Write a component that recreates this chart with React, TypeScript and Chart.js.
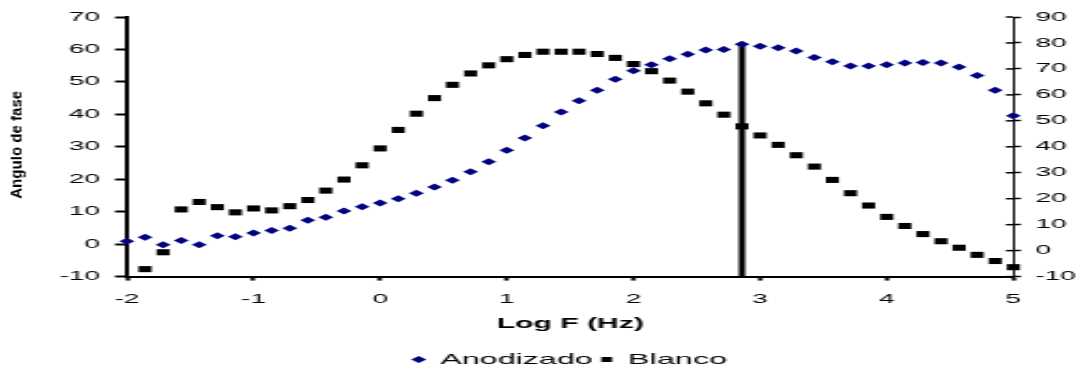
import React, { useEffect, useRef } from "react";
import { Chart, registerables } from "chart.js";

Chart.register(...registerables);

// Log F (Hz) values of the measured points
const logF = [
  -2.0, -1.857, -1.714, -1.571, -1.429, -1.286, -1.143, -1.0, -0.857, -0.714,
  -0.571, -0.429, -0.286, -0.143, 0.0, 0.143, 0.286, 0.429, 0.571, 0.714,
  0.857, 1.0, 1.143, 1.286, 1.429, 1.571, 1.714, 1.857, 2.0, 2.143,
  2.286, 2.429, 2.571, 2.714, 2.857, 3.0, 3.143, 3.286, 3.429, 3.571,
  3.714, 3.857, 4.0, 4.143, 4.286, 4.429, 4.571, 4.714, 4.857, 5.0,
];

const anodizado = [
  0.9, 2.1, -0.2, 1.1, -0.2, 2.6, 2.3, 3.4, 4.2, 4.9,
  7.4, 8.3, 10.2, 11.5, 12.7, 14.0, 15.7, 17.6, 19.7, 22.3,
  25.4, 28.9, 32.7, 36.5, 40.7, 44.2, 47.4, 50.8, 53.4, 55.3,
  57.1, 58.5, 59.8, 60.0, 61.6, 61.0, 60.5, 59.5, 57.5, 56.2,
  54.9, 54.9, 55.3, 55.8, 56.0, 55.8, 54.6, 52.0, 47.4, 39.6,
];

const blanco = [
  null, -7.7, -2.5, 10.7, 13.0, 11.4, 9.8, 11.0, 10.4, 11.7,
  13.6, 16.5, 19.9, 24.3, 29.5, 35.2, 40.2, 45.0, 49.1, 52.6,
  55.1, 57.0, 58.3, 59.3, 59.3, 59.3, 58.6, 57.4, 55.5, 53.3,
  50.4, 47.0, 43.4, 39.9, 36.3, 33.5, 30.6, 27.4, 23.9, 19.8,
  15.7, 11.9, 8.4, 5.6, 3.1, 0.9, -1.1, -3.3, -5.2, -7.1,
];

// index of the point marked with the vertical drop line
const markerIndex = 34;

const seriesNames = ["Anodizado", "Blanco"];
const xTitle = "Log F (Hz)";
const yTitle = "Angulo de fase";
const xTicks = { min: -2, max: 5, step: 1 };
const yLeftTicks = { min: -10, max: 70, step: 10 };
const yRightTicks = { min: -10, max: 90, step: 10 };

const FONT = 'Arial, "Liberation Sans", sans-serif';
const W = 505;
const H = 377;
const STRETCH = 1086 / W;

const extrasPlugin = {
  id: "extras",
  afterDraw(chart: any) {
    const { ctx, chartArea } = chart;
    const y2 = chart.scales.y2;
    ctx.save();
    ctx.strokeStyle = "#000";
    ctx.lineWidth = 1.5;
    y2.ticks.forEach((_t: any, i: number) => {
      const py = y2.getPixelForTick(i);
      ctx.beginPath();
      ctx.moveTo(chartArea.right - 3.5, py);
      ctx.lineTo(chartArea.right, py);
      ctx.stroke();
    });
    ctx.restore();

    ctx.save();
    ctx.translate(8, (chartArea.top + chartArea.bottom) / 2 - 2);
    ctx.rotate(-Math.PI / 2);
    ctx.font = "bold 7px " + FONT;
    const w = ctx.measureText(yTitle).width;
    ctx.scale(108 / w, 1);
    ctx.textAlign = "center";
    ctx.textBaseline = "middle";
    ctx.fillStyle = "#000";
    ctx.fillText(yTitle, 0, 0);
    ctx.restore();
  },
};

export default function App() {
  const ref = useRef<HTMLCanvasElement | null>(null);

  useEffect(() => {
    if (!ref.current) return;
    Chart.defaults.font.family = FONT;
    Chart.defaults.color = "#000";
    const chart = new Chart(ref.current, {
      type: "scatter",
      data: {
        datasets: [
          {
            label: seriesNames[0],
            data: logF.map((x, i) => ({ x, y: anodizado[i] })),
            pointStyle: "rectRot",
            pointRadius: 3.5,
            pointBackgroundColor: "#000080",
            pointBorderColor: "#000080",
            backgroundColor: "#000080",
            borderColor: "#000080",
            borderWidth: 0,
            pointBorderWidth: 0,
            showLine: false,
            clip: false,
            yAxisID: "y",
          },
          {
            label: seriesNames[1],
            data: logF
              .map((x, i) => ({ x, y: blanco[i] }))
              .filter((p) => p.y !== null),
            pointStyle: "rect",
            pointRadius: 4.3,
            pointBackgroundColor: "#000",
            pointBorderColor: "#000",
            backgroundColor: "#000",
            borderColor: "#000",
            borderWidth: 0,
            pointBorderWidth: 0,
            showLine: false,
            clip: false,
            yAxisID: "y",
          },
          {
            label: "marker",
            type: "line",
            data: [
              { x: logF[markerIndex], y: yLeftTicks.min },
              { x: logF[markerIndex], y: anodizado[markerIndex] },
            ],
            borderColor: "#000",
            borderWidth: 3,
            pointRadius: 0,
            showLine: true,
            clip: false,
            yAxisID: "y",
          } as any,
        ],
      },
      options: {
        animation: false,
        responsive: false,
        devicePixelRatio: 1,
        layout: { padding: { top: 17, left: 0, right: 0, bottom: 0 } },
        plugins: {
          legend: {
            position: "bottom",
            fullSize: false,
            labels: {
              usePointStyle: true,
              boxWidth: 5,
              boxHeight: 5,
              padding: 4,
              color: "#000",
              font: { size: 15, family: FONT },
              filter: (item: any) => item.datasetIndex < 2,
            },
          },
          tooltip: { enabled: false },
        },
        scales: {
          x: {
            type: "linear",
            position: "bottom",
            min: xTicks.min,
            max: xTicks.max,
            ticks: {
              stepSize: xTicks.step,
              padding: 11,
              color: "#000",
              font: { size: 13, family: FONT },
              maxRotation: 0,
            },
            grid: {
              drawOnChartArea: false,
              drawTicks: true,
              tickLength: 4,
              tickWidth: 2,
              tickColor: "#000",
            },
            border: { display: true, color: "#000", width: 2 },
            title: {
              display: true,
              text: xTitle,
              color: "#000",
              font: { size: 14, weight: "bold", family: FONT },
              padding: { top: 0, bottom: 15 },
            },
            afterFit: (s: any) => {
              s.height = 71.4;
            },
          },
          y: {
            type: "linear",
            position: "left",
            min: yLeftTicks.min,
            max: yLeftTicks.max,
            ticks: {
              stepSize: yLeftTicks.step,
              padding: 7,
              color: "#000",
              font: { size: 13, family: FONT },
            },
            grid: {
              drawOnChartArea: false,
              drawTicks: true,
              tickLength: 5.5,
              tickWidth: 2,
              tickColor: "#000",
            },
            border: { display: true, color: "#000", width: 2 },
            afterFit: (s: any) => {
              s.width = 59;
            },
          },
          y2: {
            type: "linear",
            position: "right",
            min: yRightTicks.min,
            max: yRightTicks.max,
            ticks: {
              stepSize: yRightTicks.step,
              padding: 6.7,
              color: "#000",
              font: { size: 13, family: FONT },
            },
            grid: {
              drawOnChartArea: false,
              drawTicks: true,
              tickLength: 3.5,
              tickWidth: 1.5,
              tickColor: "#000",
            },
            border: { display: true, color: "#000", width: 1 },
            afterFit: (s: any) => {
              s.width = W - 471.2;
            },
          },
        },
      } as any,
      plugins: [extrasPlugin],
    });
    return () => chart.destroy();
  }, []);

  return (
    <div
      style={{
        position: "absolute",
        left: 0,
        top: 0,
        width: 1086,
        height: 366,
        overflow: "hidden",
        background: "#fff",
      }}
    >
      <div
        style={{
          width: W,
          height: H,
          transform: `scaleX(${STRETCH})`,
          transformOrigin: "0 0",
        }}
      >
        <canvas
          ref={ref}
          width={W}
          height={H}
          style={{ display: "block", width: W, height: H }}
        />
      </div>
    </div>
  );
}
